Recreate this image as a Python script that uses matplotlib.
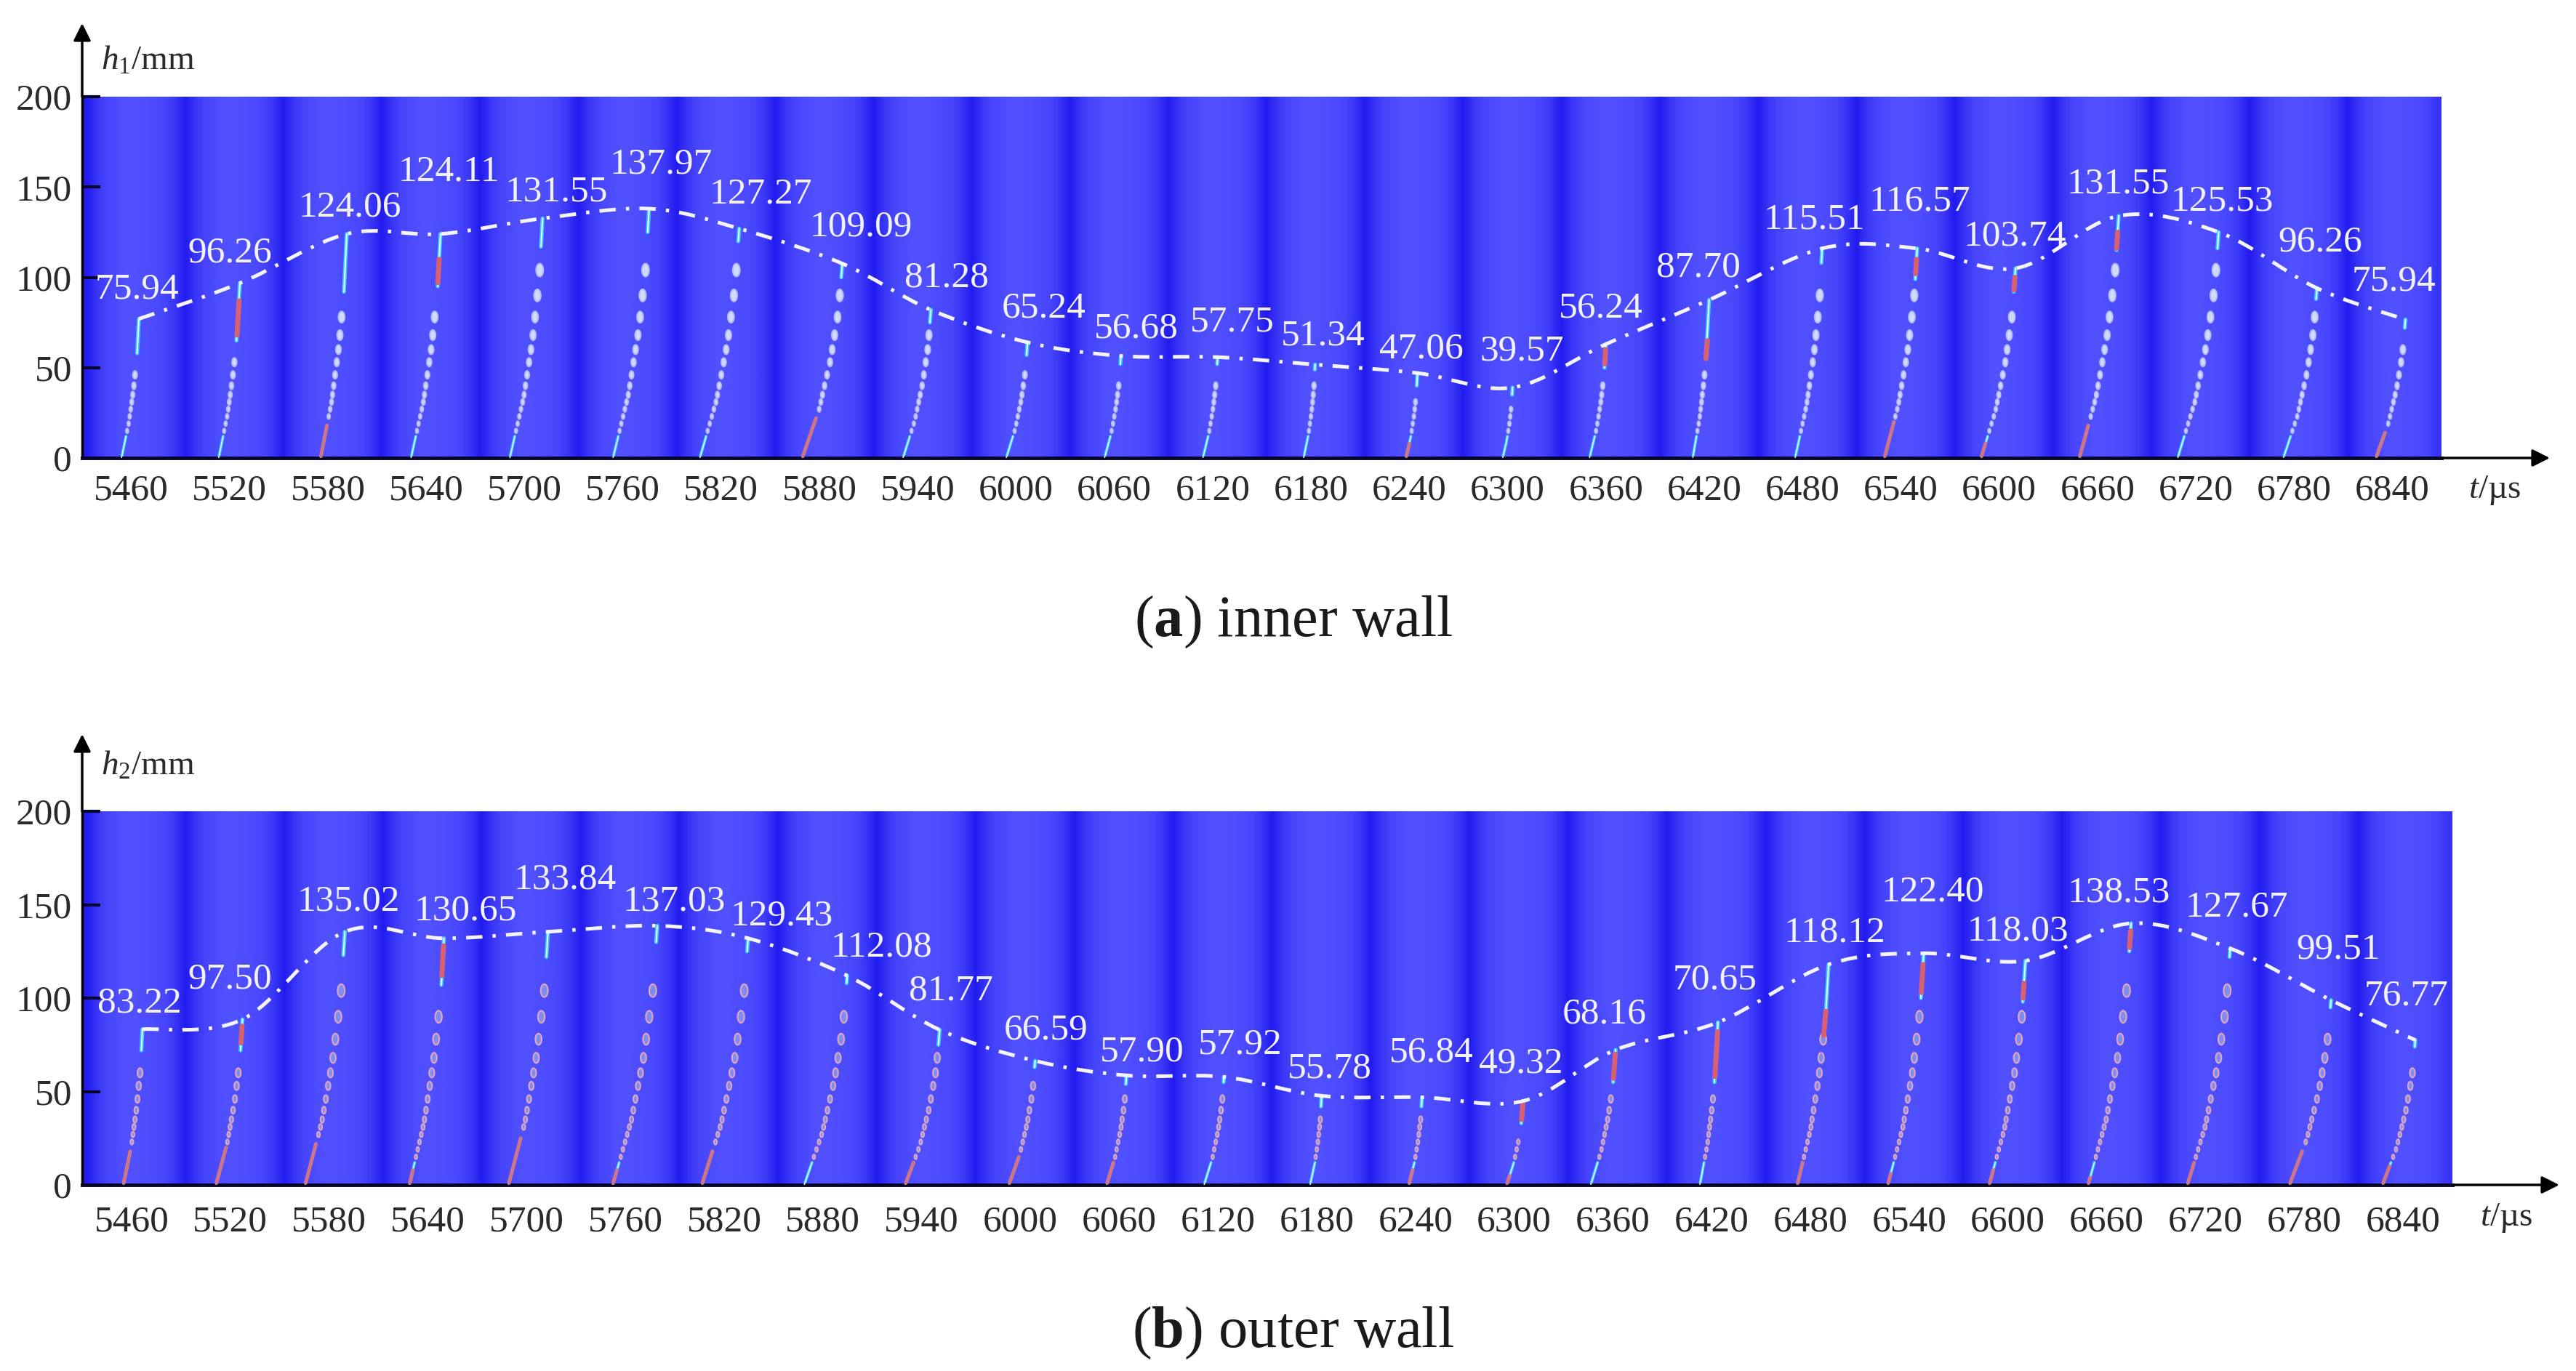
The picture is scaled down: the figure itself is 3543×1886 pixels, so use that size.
import numpy as np
import matplotlib
matplotlib.use('Agg')
import matplotlib.pyplot as plt
from matplotlib.colors import LinearSegmentedColormap
from matplotlib.markers import MarkerStyle
from matplotlib.patches import PathPatch
from matplotlib.path import Path
from matplotlib.transforms import Affine2D

plt.rcParams['font.family'] = ['Liberation Serif', 'DejaVu Serif']
plt.rcParams['mathtext.fontset'] = 'custom'
plt.rcParams['mathtext.rm'] = 'Liberation Serif'
plt.rcParams['mathtext.it'] = 'Liberation Serif:italic'
plt.rcParams['mathtext.bf'] = 'Liberation Serif:bold'

W, H = 3543, 1886

# time ticks and the 24 frames
ticks = [5460, 5520, 5580, 5640, 5700, 5760, 5820, 5880, 5940, 6000, 6060, 6120,
         6180, 6240, 6300, 6360, 6420, 6480, 6540, 6600, 6660, 6720, 6780, 6840]
y_ticks = [0, 50, 100, 150, 200]

# inner wall
labels_a = ['75.94', '96.26', '124.06', '124.11', '131.55', '137.97', '127.27', '109.09',
            '81.28', '65.24', '56.68', '57.75', '51.34', '47.06', '39.57', '56.24',
            '87.70', '115.51', '116.57', '103.74', '131.55', '125.53', '96.26', '75.94']
top_t_a = [5464.6, 5526.3, 5591.5, 5648.7, 5711, 5776, 5831, 5894, 5948, 6007, 6064, 6123,
           6182.5, 6245, 6303, 6360, 6423, 6492, 6550, 6610, 6673, 6734, 6794, 6848]
top_h_a = [77, 96.8, 124, 124, 132.6, 138, 127, 107.6, 82, 64, 56.5, 55.8,
           51.7, 47, 39, 63, 87.5, 116, 116, 105, 134, 125, 94, 76.6]
base_t_a = [5454, 5513.3, 5575.5, 5630.7, 5691, 5754, 5807, 5869.5, 5931, 5994, 6054, 6114,
            6175.5, 6238, 6297, 6350, 6413, 6475.5, 6530, 6589, 6649, 6709, 6773.5, 6830]
stripe_low_a = [58, 65, 92, 95, 117, 125, 120, 100, 75, 57, 52, 52,
                49, 40, 35, 50, 55, 108, 99, 92, 115, 116, 88, 72]
hot_low_a = [0, 68, 0, 97, 0, 0, 0, 0, 0, 0, 0, 0, 0, 0, 0, 52, 55, 0, 102, 93, 116, 0, 0, 0]
hot_high_a = [0, 87, 0, 110, 0, 0, 0, 0, 0, 0, 0, 0, 0, 0, 0, 60, 65, 0, 110, 100, 125, 0, 0, 0]
base_hot_a = [0, 0, 18, 0, 0, 0, 0, 22, 0, 0, 0, 0, 0, 8, 0, 0, 0, 0, 20, 8, 18, 0, 0, 14]

# outer wall
labels_b = ['83.22', '97.50', '135.02', '130.65', '133.84', '137.03', '129.43', '112.08',
            '81.77', '66.59', '57.90', '57.92', '55.78', '56.84', '49.32', '68.16',
            '70.65', '118.12', '122.40', '118.03', '138.53', '127.67', '99.51', '76.77']
top_t_b = [5466.6, 5527.4, 5589.6, 5649.8, 5713, 5779.4, 5834.6, 5894.8, 5951, 6009, 6064.5, 6123.7,
           6183, 6244, 6305.4, 6361.6, 6423.8, 6491, 6548.8, 6610.6, 6674.8, 6735, 6796.3, 6847.5]
top_h_b = [83.3, 88.6, 135.5, 132, 135.5, 138.7, 132, 112, 83, 66.4, 58.6, 57.8,
           47.7, 46.9, 44.9, 72.3, 87, 118, 124, 120, 140, 126.6, 98.9, 77.5]
base_t_b = [5455, 5511.3, 5565.5, 5628.8, 5689, 5752.3, 5806.5, 5868.7, 5930, 5993, 6052.4, 6111.6,
            6176, 6236, 6295.4, 6346.5, 6412.8, 6472, 6527, 6588.6, 6648.7, 6709, 6771, 6827.5]
stripe_low_b = [72, 72, 123, 107, 122, 130, 125, 108, 75, 63, 54, 55,
                42, 42, 33, 55, 55, 93, 100, 98, 125, 122, 95, 74]
hot_low_b = [0, 76, 0, 112, 0, 0, 0, 0, 0, 0, 0, 0, 0, 0, 35, 57, 58, 80, 103, 100, 127, 0, 0, 0]
hot_high_b = [0, 85, 0, 128, 0, 0, 0, 0, 0, 0, 0, 0, 0, 0, 43, 70, 82, 93, 118, 108, 136, 0, 0, 0]
base_hot_b = [18, 20, 22, 8, 25, 8, 18, 0, 12, 15, 12, 0, 0, 8, 5, 0, 0, 12, 6, 8, 4, 12, 18, 10]

# heights of the separate droplets, shared by all frames
drop_h = [15, 19, 23, 27, 31, 35, 40, 46, 53, 60, 68, 78, 90, 104]
drop_s = [22, 24, 27, 30, 36, 42, 50, 60, 72, 86, 104, 125, 145, 165]
# how a streak leans on its way up
bend_frac = [0, 0.25, 0.5, 0.75, 1]
bend_x = [0, 0.42, 0.70, 0.90, 1]
# shading across one frame of the background
band_shade = [0.05, 0.5, 0.8, 0.9, 1.0, 1.0, 0.95, 0.9, 0.8, 0.5]

# label centres in reference pixels
lab_xy_a = [(188, 398), (316, 348), (481, 285), (617, 236), (765, 264), (909, 226),
            (1046, 267), (1184, 312), (1302, 382), (1436, 424), (1563, 452), (1695, 443),
            (1820, 462), (1955, 480), (2093, 483), (2202, 424), (2336, 368), (2495, 302),
            (2640, 277), (2771, 325), (2913, 253), (3056, 277), (3191, 333), (3292, 387)]
lab_xy_b = [(192, 1380), (316, 1347), (479, 1240), (640, 1253), (777, 1210), (927, 1240),
            (1075, 1260), (1212, 1303), (1308, 1363), (1439, 1417), (1571, 1447), (1706, 1437),
            (1829, 1470), (1969, 1448), (2092, 1463), (2207, 1395), (2359, 1348), (2523, 1283),
            (2658, 1227), (2775, 1281), (2914, 1228), (3076, 1248), (3216, 1306), (3310, 1370)]

band_cmap = LinearSegmentedColormap.from_list('band', ['#2018ee', '#5050ff'])
drop_marker = MarkerStyle('o', transform=Affine2D().scale(0.55, 1))
text_col = '#2a2a2a'
FS = 37


def smooth_path(xs, ys):
    # bezier through the points, so the envelope is not a polyline
    pts = np.column_stack([xs, ys])
    verts = [pts[0]]
    codes = [Path.MOVETO]
    for i in range(len(pts) - 1):
        p0 = pts[max(i - 1, 0)]
        p3 = pts[min(i + 2, len(pts) - 1)]
        verts += [pts[i] + (pts[i + 1] - p0) / 6, pts[i + 1] - (p3 - pts[i]) / 6, pts[i + 1]]
        codes += [Path.CURVE4] * 3
    return Path(verts, codes)


def draw_panel(box, tops_t, tops_h, bases, stripe_low, hot_low, hot_high, base_hot,
               labels, lab_xy, y_name, t_xy, arrow_top, arrow_right, drop_face, drop_edge, x_pad):
    left, top, right, bottom = box
    ax = fig.add_axes([left / W, 1 - bottom / H, (right - left) / W, (bottom - top) / H])
    ax.set_xlim(5430, 6870)
    ax.set_ylim(0, 200)

    # frames as a repeated gradient
    shade = np.tile(band_shade, len(ticks))[np.newaxis, :]
    ax.imshow(shade, aspect='auto', extent=(5430, 6870, 0, 200), cmap=band_cmap,
              interpolation='bilinear', vmin=0, vmax=1, zorder=0)

    for i in range(len(ticks)):
        def xpos(h):
            return bases[i] + (tops_t[i] - bases[i]) * np.interp(np.asarray(h) / tops_h[i], bend_frac, bend_x)

        # solid part near the wall
        hs = np.array([0, 4, 8, 12])
        ax.plot(xpos(hs), hs, color='#35c8ff', lw=3, solid_capstyle='round', zorder=2)
        ax.plot(xpos(hs), hs, color='#e8f6ff', lw=1.1, zorder=3)
        if base_hot[i] > 0:
            hs = np.array([1, base_hot[i] / 2, base_hot[i]])
            ax.plot(xpos(hs), hs, color='#cf7686', lw=3.6, solid_capstyle='round', zorder=3)

        # droplets
        keep = [k for k, h in enumerate(drop_h) if base_hot[i] + 2 < h < stripe_low[i] - 6]
        dh = [drop_h[k] for k in keep]
        ds = [drop_s[k] for k in keep]
        ax.scatter(xpos(dh), dh, s=ds, marker=drop_marker, facecolor=drop_face,
                   edgecolor=drop_edge, linewidth=1.5, zorder=3)

        # streak under the curve
        hs = np.array([stripe_low[i], tops_h[i]])
        ax.plot(xpos(hs), hs, color='#35c8ff', lw=4, solid_capstyle='round', zorder=3)
        ax.plot(xpos(hs), hs, color='#eef8ff', lw=1.4, zorder=4)
        if hot_high[i] > 0:
            hs = np.array([hot_low[i], hot_high[i]])
            ax.plot(xpos(hs), hs, color='#d9606f', lw=5, solid_capstyle='round', zorder=4)

    # envelope of the streak tops
    ax.add_patch(PathPatch(smooth_path(tops_t, tops_h), facecolor='none', edgecolor='#f4f4fa',
                           lw=3.6, linestyle=(0, (4.5, 2.8, 0.9, 2.8)), zorder=5))

    for txt, (px, py), t, h in zip(labels, lab_xy, tops_t, tops_h):
        ax.annotate(txt, xy=(t, h), xytext=(px, H - py), textcoords='figure pixels',
                    ha='center', va='center', color='#f2f2f6', fontsize=FS, zorder=6)

    for s in ['top', 'right']:
        ax.spines[s].set_visible(False)
    ax.spines['left'].set_color('black')
    ax.spines['left'].set_linewidth(2.5)
    ax.spines['bottom'].set_color('#05052e')
    ax.spines['bottom'].set_linewidth(3.5)

    ax.set_xticks(ticks)
    ax.set_xticklabels([str(t) for t in ticks], fontsize=FS, color=text_col)
    ax.set_yticks(y_ticks)
    ax.set_yticklabels([str(t) for t in y_ticks], fontsize=FS, color=text_col)
    ax.tick_params(axis='x', length=0, pad=x_pad)
    ax.tick_params(axis='y', direction='in', length=18, width=3, color='#05052e', pad=10)

    # axis arrows
    fig_ax = dict(xycoords='figure pixels', textcoords='figure pixels')
    arrow = dict(arrowstyle='-|>', color='black', lw=2.5, mutation_scale=36, shrinkA=0, shrinkB=0)
    ax.annotate('', xy=(left, H - arrow_top), xytext=(left, H - top), arrowprops=arrow, **fig_ax)
    ax.annotate('', xy=(arrow_right, H - bottom), xytext=(right, H - bottom), arrowprops=arrow, **fig_ax)

    fig.text((left + 26) / W, 1 - t_xy[2] / H, y_name, fontsize=34, color=text_col,
             ha='left', va='center')
    fig.text(t_xy[0] / W, 1 - t_xy[1] / H, r'$\mathit{t}$/µs', fontsize=34, color=text_col,
             ha='center', va='center')


fig = plt.figure(figsize=(W / 100, H / 100), dpi=100)

draw_panel((113, 133, 3358, 630), top_t_a, top_h_a, base_t_a, stripe_low_a, hot_low_a, hot_high_a,
           base_hot_a, labels_a, lab_xy_a, r'$\mathit{h}_{1}$/mm', (3431, 674, 84), 32, 3507,
           '#cfdcff', '#b9bdf0', 16)
draw_panel((113, 1116, 3373, 1630), top_t_b, top_h_b, base_t_b, stripe_low_b, hot_low_b, hot_high_b,
           base_hot_b, labels_b, lab_xy_b, r'$\mathit{h}_{2}$/mm', (3447, 1676, 1054), 1010, 3520,
           '#7f8cf0', '#e0a8b8', 20)

fig.text(1779 / W, 1 - 856 / H, r'($\mathbf{a}$) inner wall', fontsize=58, color='#1a1a1a',
         ha='center', va='center')
fig.text(1779 / W, 1 - 1834 / H, r'($\mathbf{b}$) outer wall', fontsize=58, color='#1a1a1a',
         ha='center', va='center')

fig.savefig('out.png', dpi=100)
